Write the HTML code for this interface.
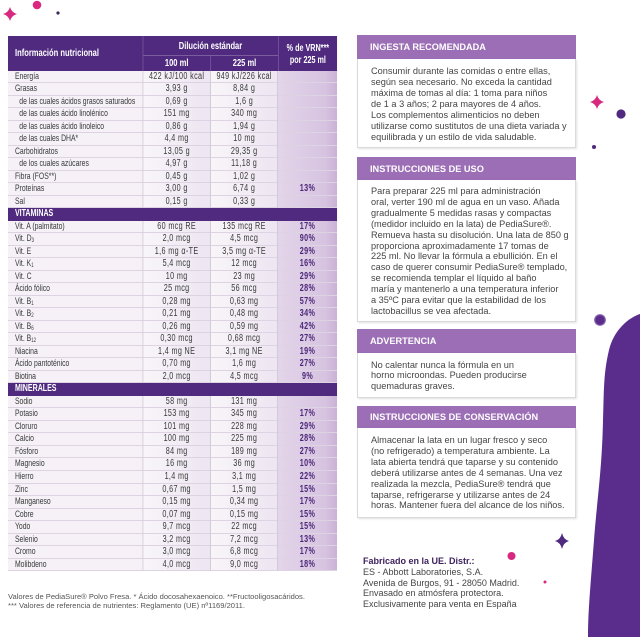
<!DOCTYPE html>
<html><head><meta charset="utf-8">
<style>
*{margin:0;padding:0;box-sizing:border-box}
html,body{width:640px;height:637px;background:#fff;overflow:hidden;position:relative;font-family:"Liberation Sans",Arial,sans-serif}
#tbl{position:absolute;left:8px;top:36px;width:457px;transform:scaleX(0.72);transform-origin:0 0;font-family:"Liberation Sans",Arial,sans-serif}
.hd{position:relative;height:34.5px;background:#4f2a7e;color:#fff;font-weight:bold}
.hd div{position:absolute;text-align:center;white-space:nowrap}
.r{display:flex;height:12.525px}
.r>div{height:12.525px;border-bottom:1px solid #ddd3e2;font-size:9.5px;line-height:11.8px;color:#383838;white-space:nowrap;overflow:hidden}
.a{width:187.5px;padding-left:9.7px;background:#f5f1f7;border-right:1px solid #c7bccd}
.a.i{padding-left:15.7px}
.r>.b{width:94.5px;text-align:center;background:linear-gradient(90deg,#f8f5f9,#ede5f1);border-right:1px solid #c7bccd;font-size:10px;letter-spacing:0.5px}
.r>.c{width:93px;text-align:center;background:linear-gradient(90deg,#f8f5f9,#ede5f1);border-right:1px solid #c7bccd;font-size:10px;letter-spacing:0.5px}
.r>.d{width:82px;text-align:center;background:linear-gradient(90deg,#e3d5ea,#d7c3e0 80%,#cab1d7);font-weight:bold;color:#4b2778;font-size:10px;letter-spacing:0.5px}
.s{height:12.525px;background:#4f2a7e;color:#fff;font-weight:bold;font-size:9.8px;line-height:12.5px;padding-left:9.7px}
sub{font-size:6px;vertical-align:-1px;line-height:0}
.p{position:absolute;left:357px;width:219px}
.ph{background:#9b6eb5;color:#fff;font-weight:bold;font-size:9.2px;padding-left:13px;white-space:nowrap}
.pb{background:#fff;border:1px solid #dadada;border-top:none;box-shadow:1px 1px 2px rgba(0,0,0,0.12);padding-left:13px;font-size:9.2px;line-height:10.9px;color:#454545;white-space:nowrap}
</style></head><body>

<svg width="640" height="637" style="position:absolute;left:0;top:0">
  <path d="M640,314 C628,318 614,330 609,350 C603,375 604,395 603,420 C602,470 597,500 594,540 C591,580 588,610 588,637 L640,637 Z" fill="#5a2c8c"/>
  <path d="M10,7 Q11.5,12.5 17,14 Q11.5,15.5 10,21 Q8.5,15.5 3,14 Q8.5,12.5 10,7 Z" fill="#d8287f"/>
  <circle cx="37" cy="5" r="4.3" fill="#d8287f"/>
  <circle cx="58" cy="13" r="1.6" fill="#3d2a5c"/>
  <path d="M597,95 Q598.5,100.5 604,102 Q598.5,103.5 597,109 Q595.5,103.5 590,102 Q595.5,100.5 597,95 Z" fill="#d8287f"/>
  <circle cx="621" cy="114" r="4.6" fill="#4f2a7e"/>
  <circle cx="594" cy="147" r="2" fill="#4f2a7e"/>
  <circle cx="600" cy="320" r="5.3" fill="#5a2c8c" stroke="#8a66b0" stroke-width="1.2"/>
  <path d="M562,533 Q563.5,539.5 569,541 Q563.5,542.5 562,549 Q560.5,542.5 555,541 Q560.5,539.5 562,533 Z" fill="#4f2a7e"/>
  <circle cx="511.5" cy="556" r="4" fill="#d8287f"/>
  <circle cx="545" cy="582" r="1.5" fill="#d8287f"/>
</svg>

<div id="tbl">
  <div class="hd">
    <div style="left:0;top:0;width:187.5px;height:34.5px;line-height:34.5px;text-align:left;padding-left:9.7px;font-size:10.5px;border-right:1px solid #7b5d9f">Información nutricional</div>
    <div style="left:187.5px;top:0;width:187.5px;height:20px;line-height:20px;font-size:10.5px;border-bottom:1px solid #7b5d9f">Dilución estándar</div>
    <div style="left:187.5px;top:20px;width:94.5px;height:14.5px;line-height:14px;font-size:10.5px;border-right:1px solid #7b5d9f">100 ml</div>
    <div style="left:282px;top:20px;width:93px;height:14.5px;line-height:14px;font-size:10.5px">225 ml</div>
    <div style="left:375px;top:0;width:82px;height:34.5px;border-left:1px solid #7b5d9f;font-size:10px;line-height:11.5px;padding-top:7px">% de VRN***<br>por 225 ml</div>
  </div>
  <div class="r"><div class="a">Energía</div><div class="b">422 kJ/100 kcal</div><div class="c">949 kJ/226 kcal</div><div class="d"></div></div>
  <div class="r"><div class="a">Grasas</div><div class="b">3,93 g</div><div class="c">8,84 g</div><div class="d"></div></div>
  <div class="r"><div class="a i">de las cuales ácidos grasos saturados</div><div class="b">0,69 g</div><div class="c">1,6 g</div><div class="d"></div></div>
  <div class="r"><div class="a i">de las cuales ácido linolénico</div><div class="b">151 mg</div><div class="c">340 mg</div><div class="d"></div></div>
  <div class="r"><div class="a i">de las cuales ácido linoleico</div><div class="b">0,86 g</div><div class="c">1,94 g</div><div class="d"></div></div>
  <div class="r"><div class="a i">de las cuales DHA*</div><div class="b">4,4 mg</div><div class="c">10 mg</div><div class="d"></div></div>
  <div class="r"><div class="a">Carbohidratos</div><div class="b">13,05 g</div><div class="c">29,35 g</div><div class="d"></div></div>
  <div class="r"><div class="a i">de los cuales azúcares</div><div class="b">4,97 g</div><div class="c">11,18 g</div><div class="d"></div></div>
  <div class="r"><div class="a">Fibra (FOS**)</div><div class="b">0,45 g</div><div class="c">1,02 g</div><div class="d"></div></div>
  <div class="r"><div class="a">Proteínas</div><div class="b">3,00 g</div><div class="c">6,74 g</div><div class="d">13%</div></div>
  <div class="r"><div class="a">Sal</div><div class="b">0,15 g</div><div class="c">0,33 g</div><div class="d"></div></div>
  <div class="s">VITAMINAS</div>
  <div class="r"><div class="a">Vit. A (palmitato)</div><div class="b">60 mcg RE</div><div class="c">135 mcg RE</div><div class="d">17%</div></div>
  <div class="r"><div class="a">Vit. D<sub>3</sub></div><div class="b">2,0 mcg</div><div class="c">4,5 mcg</div><div class="d">90%</div></div>
  <div class="r"><div class="a">Vit. E</div><div class="b">1,6 mg α-TE</div><div class="c">3,5 mg α-TE</div><div class="d">29%</div></div>
  <div class="r"><div class="a">Vit. K<sub>1</sub></div><div class="b">5,4 mcg</div><div class="c">12 mcg</div><div class="d">16%</div></div>
  <div class="r"><div class="a">Vit. C</div><div class="b">10 mg</div><div class="c">23 mg</div><div class="d">29%</div></div>
  <div class="r"><div class="a">Ácido fólico</div><div class="b">25 mcg</div><div class="c">56 mcg</div><div class="d">28%</div></div>
  <div class="r"><div class="a">Vit. B<sub>1</sub></div><div class="b">0,28 mg</div><div class="c">0,63 mg</div><div class="d">57%</div></div>
  <div class="r"><div class="a">Vit. B<sub>2</sub></div><div class="b">0,21 mg</div><div class="c">0,48 mg</div><div class="d">34%</div></div>
  <div class="r"><div class="a">Vit. B<sub>6</sub></div><div class="b">0,26 mg</div><div class="c">0,59 mg</div><div class="d">42%</div></div>
  <div class="r"><div class="a">Vit. B<sub>12</sub></div><div class="b">0,30 mcg</div><div class="c">0,68 mcg</div><div class="d">27%</div></div>
  <div class="r"><div class="a">Niacina</div><div class="b">1,4 mg NE</div><div class="c">3,1 mg NE</div><div class="d">19%</div></div>
  <div class="r"><div class="a">Ácido pantoténico</div><div class="b">0,70 mg</div><div class="c">1,6 mg</div><div class="d">27%</div></div>
  <div class="r"><div class="a">Biotina</div><div class="b">2,0 mcg</div><div class="c">4,5 mcg</div><div class="d">9%</div></div>
  <div class="s">MINERALES</div>
  <div class="r"><div class="a">Sodio</div><div class="b">58 mg</div><div class="c">131 mg</div><div class="d"></div></div>
  <div class="r"><div class="a">Potasio</div><div class="b">153 mg</div><div class="c">345 mg</div><div class="d">17%</div></div>
  <div class="r"><div class="a">Cloruro</div><div class="b">101 mg</div><div class="c">228 mg</div><div class="d">29%</div></div>
  <div class="r"><div class="a">Calcio</div><div class="b">100 mg</div><div class="c">225 mg</div><div class="d">28%</div></div>
  <div class="r"><div class="a">Fósforo</div><div class="b">84 mg</div><div class="c">189 mg</div><div class="d">27%</div></div>
  <div class="r"><div class="a">Magnesio</div><div class="b">16 mg</div><div class="c">36 mg</div><div class="d">10%</div></div>
  <div class="r"><div class="a">Hierro</div><div class="b">1,4 mg</div><div class="c">3,1 mg</div><div class="d">22%</div></div>
  <div class="r"><div class="a">Zinc</div><div class="b">0,67 mg</div><div class="c">1,5 mg</div><div class="d">15%</div></div>
  <div class="r"><div class="a">Manganeso</div><div class="b">0,15 mg</div><div class="c">0,34 mg</div><div class="d">17%</div></div>
  <div class="r"><div class="a">Cobre</div><div class="b">0,07 mg</div><div class="c">0,15 mg</div><div class="d">15%</div></div>
  <div class="r"><div class="a">Yodo</div><div class="b">9,7 mcg</div><div class="c">22 mcg</div><div class="d">15%</div></div>
  <div class="r"><div class="a">Selenio</div><div class="b">3,2 mcg</div><div class="c">7,2 mcg</div><div class="d">13%</div></div>
  <div class="r"><div class="a">Cromo</div><div class="b">3,0 mcg</div><div class="c">6,8 mcg</div><div class="d">17%</div></div>
  <div class="r"><div class="a">Molibdeno</div><div class="b">4,0 mcg</div><div class="c">9,0 mcg</div><div class="d">18%</div></div>
</div>

<div style="position:absolute;left:8px;top:591.5px;font-size:7.58px;line-height:9px;color:#555;white-space:nowrap">Valores de PediaSure® Polvo Fresa. * Ácido docosahexaenoico. **Fructooligosacáridos.<br>*** Valores de referencia de nutrientes: Reglamento (UE) nº1169/2011.</div>

<div class="p" style="top:35px">
  <div class="ph" style="height:24px;line-height:24px">INGESTA RECOMENDADA</div>
  <div class="pb" style="height:89px;padding-top:7.2px">Consumir durante las comidas o entre ellas,<br>según sea necesario. No exceda la cantidad<br>máxima de tomas al día: 1 toma para niños<br>de 1 a 3 años; 2 para mayores de 4 años.<br>Los complementos alimenticios no deben<br>utilizarse como sustitutos de una dieta variada y<br>equilibrada y un estilo de vida saludable.</div>
</div>

<div class="p" style="top:157px">
  <div class="ph" style="height:23px;line-height:24px">INSTRUCCIONES DE USO</div>
  <div class="pb" style="height:142px;padding-top:6px">Para preparar 225 ml para administración<br>oral, verter 190 ml de agua en un vaso. Añada<br>gradualmente 5 medidas rasas y compactas<br>(medidor incluido en la lata) de PediaSure®.<br>Remueva hasta su disolución. Una lata de 850 g<br>proporciona aproximadamente 17 tomas de<br>225 ml. No llevar la fórmula a ebullición. En el<br>caso de querer consumir PediaSure® templado,<br>se recomienda templar el líquido al baño<br>maría y mantenerlo a una temperatura inferior<br>a 35ºC para evitar que la estabilidad de los<br>lactobacillus se vea afectada.</div>
</div>

<div class="p" style="top:329px">
  <div class="ph" style="height:24px;line-height:25px">ADVERTENCIA</div>
  <div class="pb" style="height:45px;padding-top:6.5px">No calentar nunca la fórmula en un<br>horno microondas. Pueden producirse<br>quemaduras graves.</div>
</div>

<div class="p" style="top:406px">
  <div class="ph" style="height:22px;line-height:23px">INSTRUCCIONES DE CONSERVACIÓN</div>
  <div class="pb" style="height:90px;padding-top:7px">Almacenar la lata en un lugar fresco y seco<br>(no refrigerado) a temperatura ambiente. La<br>lata abierta tendrá que taparse y su contenido<br>deberá utilizarse antes de 4 semanas. Una vez<br>realizada la mezcla, PediaSure® tendrá que<br>taparse, refrigerarse y utilizarse antes de 24<br>horas. Mantener fuera del alcance de los niños.</div>
</div>

<div style="position:absolute;left:363px;top:556.3px;font-size:9px;line-height:10.7px;color:#454545;white-space:nowrap"><b style="color:#3b1f5c">Fabricado en la UE. Distr.:</b><br>ES - Abbott Laboratories, S.A.<br>Avenida de Burgos, 91 - 28050 Madrid.<br>Envasado en atmósfera protectora.<br>Exclusivamente para venta en España</div>

</body></html>
